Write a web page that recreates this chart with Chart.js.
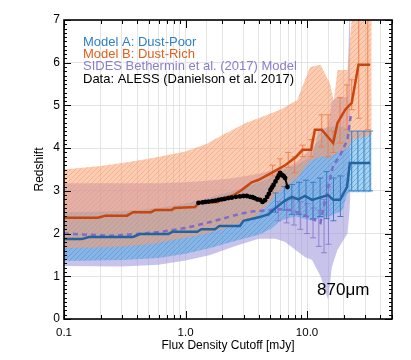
<!DOCTYPE html>
<html>
<head>
<meta charset="utf-8">
<script src="https://cdn.jsdelivr.net/npm/chart.js@4.4.1/dist/chart.umd.min.js"></script>
<style>
  html, body { margin: 0; padding: 0; background: #fff; }
  #chart { display: block; }
</style>
</head>
<body>
<canvas id="chart" width="411" height="360"></canvas>
<script>
// Model A: Dust-Poor -- median redshift vs flux cutoff
var aX   = [0.1, 0.14, 0.16, 0.37, 0.42, 0.72, 0.78, 1.25, 1.35, 1.75, 1.9, 2.8, 3.0, 4.0, 4.8, 5.5, 6.5, 7.5, 8.5, 9.6, 11.0, 12.3, 14.9, 16.4, 18.7, 21.3, 22.5, 33];
var aMed = [1.87, 1.87, 1.92, 1.92, 1.99, 1.99, 2.04, 2.04, 2.1, 2.1, 2.18, 2.18, 2.3, 2.38, 2.45, 2.6, 2.76, 2.86, 2.8, 2.88, 2.79, 2.83, 2.9, 2.79, 2.79, 3.09, 3.65, 3.65];
// Model A spread
var aBandX = [0.1, 0.3, 0.6, 1.0, 1.6, 2.5, 4.0, 5.0, 6.0, 8.0, 11.0, 12.5, 15.4, 19.6, 21.5, 22.5, 34];
var aLow   = [1.36, 1.38, 1.43, 1.53, 1.66, 1.82, 1.97, 2.1, 2.3, 2.4, 2.3, 2.35, 2.4, 2.55, 2.95, 2.97, 2.97];
var aHigh  = [2.5, 2.52, 2.6, 2.7, 2.85, 3.0, 3.2, 3.3, 3.45, 3.6, 3.8, 4.45, 4.5, 4.5, 4.45, 4.4, 4.4];
// Model A error bars
var aErrX  = [5.5, 6.5, 7.5, 8.6, 9.8, 11.2, 12.8, 14.5, 16.5, 18.8, 23.3, 26.2, 29.4, 33];
var aErrLo = [2.5, 2.55, 2.45, 2.45, 2.4, 2.35, 2.4, 2.35, 2.3, 2.4, 3.0, 3.0, 3.0, 3.0];
var aErrHi = [2.95, 3.1, 3.15, 3.2, 3.25, 3.2, 3.3, 3.45, 3.3, 3.35, 4.4, 4.4, 4.4, 4.4];

// Model B: Dust-Rich
var bX   = [0.1, 0.19, 0.22, 0.33, 0.37, 0.52, 0.56, 0.77, 0.81, 1.2, 1.28, 1.85, 1.95, 2.5, 2.9, 3.5, 4.0, 5.1, 6.6, 8.0, 9.2, 10.8, 11.6, 13.2, 16.4, 17.8, 20.6, 23.3, 26.5, 33];
var bMed = [2.37, 2.37, 2.42, 2.42, 2.5, 2.5, 2.55, 2.55, 2.6, 2.62, 2.72, 2.74, 2.81, 2.9, 3.02, 3.2, 3.26, 3.42, 3.6, 3.78, 3.96, 3.96, 4.43, 4.43, 4.12, 4.59, 4.9, 5.06, 5.95, 5.95];
var bBandX = [0.1, 0.2, 0.3, 0.5, 1.0, 1.5, 2.0, 3.2, 4.0, 6.0, 8.3, 10.6, 12.9, 15.5, 16.6, 17.8, 21.5, 24, 34];
var bLow   = [1.66, 1.68, 1.7, 1.75, 1.9, 2.0, 2.1, 2.3, 2.45, 3.0, 3.3, 3.7, 3.8, 3.8, 3.85, 3.9, 4.0, 4.2, 4.3];
var bHigh  = [3.5, 3.58, 3.65, 3.75, 3.92, 4.1, 4.3, 4.6, 4.7, 4.9, 5.13, 5.9, 5.95, 5.5, 5.1, 5.83, 5.83, 7.5, 7.5];
var bErrX  = [5.2, 6.0, 7.0, 7.9, 9.2, 10.8, 13.2, 14.9, 16.4, 18.7, 21.3, 23.3, 26.6, 31.6];
var bErrLo = [3.35, 3.45, 3.55, 3.42, 3.8, 3.8, 4.03, 3.8, 3.9, 4.12, 4.43, 4.9, 4.7, 4.43];
var bErrHi = [3.6, 3.75, 3.9, 3.8, 4.07, 4.2, 4.78, 4.78, 4.4, 5.18, 5.48, 5.6, 7.2, 7.2];

// SIDES Bethermin et al. (2017) model
var sX   = [0.1, 0.14, 0.24, 0.4, 0.62, 1.0, 1.6, 2.8, 3.6, 5.0, 6.2, 7.3, 8.7, 10.6, 12.9, 13.5, 15.4, 16.4, 18.5, 21.5, 23.0];
var sMed = [2.0, 1.98, 1.95, 1.99, 2.04, 2.13, 2.27, 2.46, 2.52, 2.55, 2.57, 2.55, 2.48, 2.37, 2.25, 2.55, 3.26, 3.6, 3.8, 4.2, 4.8];
var sBandX = [0.1, 0.3, 0.6, 1.0, 1.6, 2.5, 4.0, 5.5, 6.6, 8.0, 9.6, 11.0, 12.9, 14.9, 16.0, 17.8, 21.5, 22.3, 22.7];
var sLow   = [1.24, 1.23, 1.27, 1.37, 1.5, 1.7, 1.88, 1.88, 1.8, 1.62, 1.45, 1.38, 1.0, 0.45, 1.22, 1.62, 2.0, 2.5, 2.9];
var sHigh  = [3.18, 3.18, 3.18, 3.2, 3.24, 3.3, 3.4, 3.5, 3.55, 3.65, 3.85, 4.0, 4.2, 4.5, 5.1, 5.2, 5.2, 7.2, 7.2];
var sErrX  = [5.8, 6.8, 7.8, 8.8, 10.0, 11.2, 12.5, 13.8, 15.0];
var sErrLo = [2.3, 2.25, 2.2, 2.1, 2.0, 1.9, 1.7, 1.55, 1.75];
var sErrHi = [2.75, 2.8, 2.8, 2.75, 2.7, 2.6, 2.55, 2.8, 3.1];

// Data: ALESS (Danielson et al. 2017)
var alessX = [1.28, 1.38, 1.46, 1.55, 1.66, 1.76, 1.87, 1.98, 2.1, 2.25, 2.4, 2.6, 2.8, 3.0, 3.2, 3.4, 3.55, 3.7, 3.9, 4.1, 4.3, 4.5, 4.7, 4.85, 5.0, 5.15, 5.3, 5.5, 5.7, 5.85, 6.0, 6.15, 6.3, 6.45, 6.6, 6.9];
var alessZ = [2.72, 2.73, 2.74, 2.75, 2.76, 2.77, 2.79, 2.8, 2.81, 2.83, 2.84, 2.86, 2.87, 2.88, 2.88, 2.86, 2.85, 2.83, 2.8, 2.79, 2.74, 2.78, 2.86, 2.93, 3.02, 3.08, 3.14, 3.22, 3.3, 3.36, 3.42, 3.38, 3.36, 3.34, 3.3, 3.09];

var xTickVals   = [0.1, 1, 10];
var xTickLabels = ["0.1", "1.0", "10.0"];
var legendText  = ["Model A: Dust-Poor", "Model B: Dust-Rich", "SIDES Bethermin et al. (2017) Model", "Data: ALESS (Danielson et al. 2017)"];
var legendColor = ["#2f80c8", "#e0601e", "#8c7ccc", "#000000"];

var FONT = '"Liberation Sans", Arial, sans-serif';
var canvas = document.getElementById("chart");
var ctx = canvas.getContext("2d");

function pts(xs, ys) {
  return xs.map(function (x, i) { return { x: x, y: ys[i] }; });
}

function hatch(base, stroke) {
  var c = document.createElement("canvas");
  c.width = 5; c.height = 5;
  var g = c.getContext("2d");
  g.fillStyle = base;
  g.fillRect(0, 0, 5, 5);
  g.strokeStyle = stroke;
  g.lineWidth = 1;
  g.beginPath();
  g.moveTo(-1, 6); g.lineTo(6, -1);
  g.stroke();
  return ctx.createPattern(c, "repeat");
}

function band(xs, lo, hi, fillStyle, order) {
  var edge = { type: "line", data: pts(xs, lo), borderColor: "rgba(0,0,0,0)", borderWidth: 0, pointRadius: 0, fill: false, order: order };
  var top = { type: "line", data: pts(xs, hi), borderColor: "rgba(0,0,0,0)", borderWidth: 0, pointRadius: 0, fill: "-1", backgroundColor: fillStyle, order: order };
  return [edge, top];
}

var datasets = [].concat(
  band(sBandX, sLow, sHigh, "rgba(155,145,218,0.55)", 10),
  band(aBandX, aLow, aHigh, hatch("rgba(80,165,225,0.5)", "rgba(60,145,210,0.5)"), 9),
  band(bBandX, bLow, bHigh, hatch("rgba(250,160,110,0.52)", "rgba(246,145,95,0.45)"), 8),
  [
    { data: pts(sX, sMed), borderColor: "#7e6cc6", borderWidth: 2.5, borderDash: [5, 4], pointRadius: 0, fill: false, order: 4 },
    { data: pts(aX, aMed), borderColor: "#22649f", borderWidth: 2.5, pointRadius: 0, fill: false, order: 3 },
    { data: pts(bX, bMed), borderColor: "#c8450e", borderWidth: 2.5, pointRadius: 0, fill: false, order: 2 },
    { data: pts(alessX, alessZ), borderColor: "#000", backgroundColor: "#000", borderWidth: 2, pointRadius: 2.4, pointBorderWidth: 0, fill: false, order: 1 }
  ]
);

var errSets = [
  { x: sErrX, lo: sErrLo, hi: sErrHi, color: "rgba(140,120,205,0.9)" },
  { x: aErrX, lo: aErrLo, hi: aErrHi, color: "rgba(45,120,195,0.9)" },
  { x: bErrX, lo: bErrLo, hi: bErrHi, color: "rgba(240,125,70,0.9)" }
];

// error bars drawn right after the topmost band (dataset index 5)
var errorBars = {
  id: "errorBars",
  afterDatasetDraw: function (chart, args) {
    if (args.index !== 5) return;
    var xs = chart.scales.x, ys = chart.scales.y, a = chart.chartArea, g = chart.ctx;
    g.save();
    g.beginPath();
    g.rect(a.left, a.top, a.right - a.left, a.bottom - a.top);
    g.clip();
    g.lineWidth = 1;
    errSets.forEach(function (s) {
      g.strokeStyle = s.color;
      s.x.forEach(function (v, i) {
        var px = xs.getPixelForValue(v);
        var lo = ys.getPixelForValue(s.lo[i]);
        var hi = ys.getPixelForValue(s.hi[i]);
        g.beginPath();
        g.moveTo(px, lo); g.lineTo(px, hi);
        g.moveTo(px - 3, lo); g.lineTo(px + 3, lo);
        g.moveTo(px - 3, hi); g.lineTo(px + 3, hi);
        g.stroke();
      });
    });
    g.restore();
  }
};

// IDL-style frame with inward minor ticks, plus legend text
var frame = {
  id: "frame",
  afterDraw: function (chart) {
    var xs = chart.scales.x, ys = chart.scales.y, a = chart.chartArea, g = chart.ctx;
    g.save();
    g.strokeStyle = "#000";
    g.lineWidth = 1;
    g.beginPath();
    for (var k = 0; k <= 70; k++) {
      var py = Math.round(ys.getPixelForValue(k / 10)) + 0.5;
      var len = k % 10 === 0 ? 7 : 3;
      g.moveTo(a.left, py); g.lineTo(a.left + len, py);
      g.moveTo(a.right, py); g.lineTo(a.right - len, py);
    }
    [0.1, 1, 10].forEach(function (dec) {
      for (var m = 1; m <= 9; m++) {
        var v = m * dec;
        if (v > xs.max) break;
        var px = Math.round(xs.getPixelForValue(v)) + 0.5;
        var l = m === 1 ? 8 : 4;
        g.moveTo(px, a.bottom); g.lineTo(px, a.bottom - l);
        g.moveTo(px, a.top); g.lineTo(px, a.top + l);
      }
    });
    g.stroke();
    g.lineWidth = 1.6;
    g.strokeRect(a.left, a.top, a.right - a.left, a.bottom - a.top);

    g.font = "13px " + FONT;
    g.textAlign = "left";
    g.textBaseline = "alphabetic";
    legendText.forEach(function (t, i) {
      g.fillStyle = legendColor[i];
      g.fillText(t, a.left + 19, a.top + 25.5 + i * 12.4);
    });
    g.fillStyle = "#000";
    g.font = "17px " + FONT;
    g.fillText("870\u03bcm", xs.getPixelForValue(10) + 10, a.bottom - 24);
    g.restore();
  }
};

new Chart(canvas, {
  type: "line",
  data: { datasets: datasets },
  options: {
    responsive: false,
    animation: false,
    layout: { padding: { top: 20, right: 19, left: 0, bottom: 0 } },
    elements: { line: { tension: 0 } },
    plugins: { legend: { display: false }, tooltip: { enabled: false } },
    scales: {
      x: {
        type: "logarithmic",
        min: 0.1,
        max: 50,
        border: { display: false },
        grid: { color: "#e4e4e4", lineWidth: 1, drawTicks: false },
        ticks: {
          autoSkip: false,
          maxRotation: 0,
          padding: 7,
          color: "#000",
          font: { family: FONT, size: 11.5 },
          callback: function (v) {
            for (var i = 0; i < xTickVals.length; i++) {
              if (Math.abs(v / xTickVals[i] - 1) < 1e-6) return xTickLabels[i];
            }
            return "";
          }
        },
        title: { display: true, text: "Flux Density Cutoff [mJy]", color: "#000", font: { family: FONT, size: 12 }, padding: { top: 0, bottom: 7 } },
        afterFit: function (s) { s.height = 41; }
      },
      y: {
        min: 0,
        max: 7,
        border: { display: false },
        grid: { color: "#e4e4e4", lineWidth: 1, drawTicks: false },
        ticks: { stepSize: 1, padding: 4, color: "#000", font: { family: FONT, size: 12 } },
        title: { display: true, text: "Redshift", color: "#000", font: { family: FONT, size: 12 }, padding: { top: 32, bottom: 0 } },
        afterFit: function (s) { s.width = 64; }
      }
    }
  },
  plugins: [errorBars, frame]
});
</script>
</body>
</html>
